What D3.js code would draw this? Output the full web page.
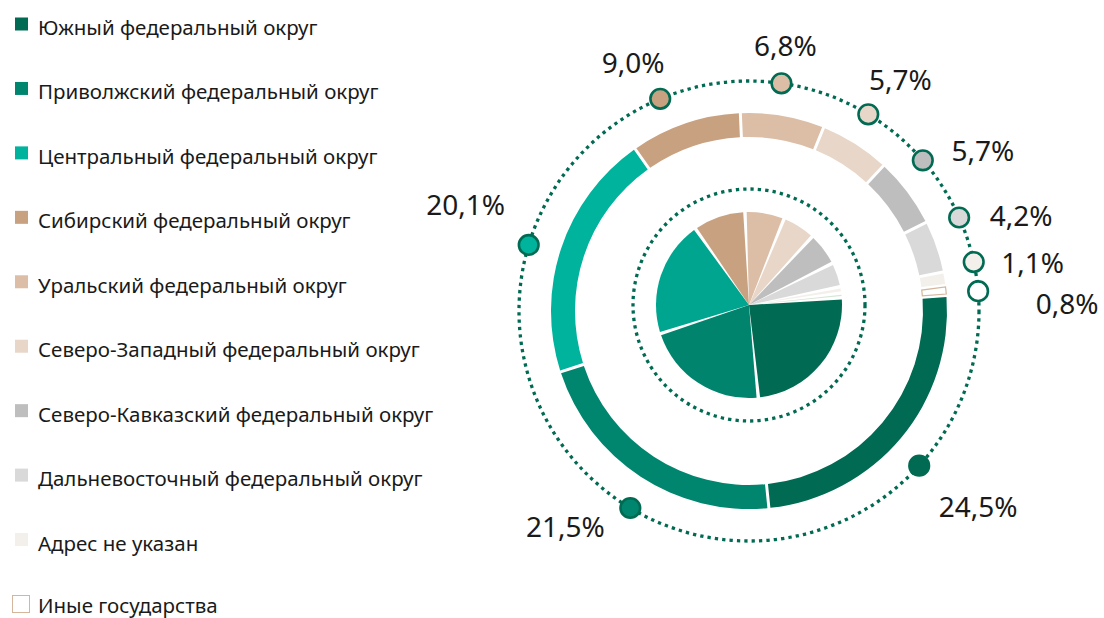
<!DOCTYPE html>
<html lang="ru">
<head>
<meta charset="utf-8">
<script src="https://cdn.jsdelivr.net/npm/d3@7"></script>
<style>
  html, body { margin: 0; padding: 0; background: #fff; }
  svg { display: block; font-family: "Noto Sans", "Open Sans", sans-serif; }
  .leg-text { font-size: 20.5px; fill: #1a1a1a; }
  .pct { font-size: 28px; fill: #1a1a1a; text-anchor: middle; }
</style>
</head>
<body>
<div id="chart"></div>
<script>
  // --- data ---
  var categories = [
    "Южный федеральный округ",
    "Приволжский федеральный округ",
    "Центральный федеральный округ",
    "Сибирский федеральный округ",
    "Уральский федеральный округ",
    "Северо-Западный федеральный округ",
    "Северо-Кавказский федеральный округ",
    "Дальневосточный федеральный округ",
    "Адрес не указан",
    "Иные государства"
  ];
  var shares = [24.5, 21.5, 20.1, 9.0, 6.8, 5.7, 5.7, 4.2, 1.1, 0.8];

  var ringColors = ["#006b52", "#00856f", "#00b39d", "#c8a181", "#dcbea7", "#e8d6c8",
                    "#bebebe", "#d9d9d9", "#f3efeb", "#ffffff"];
  var pieColors  = ["#006b52", "#00846e", "#00a58f", "#c8a181", "#dcbea7", "#e8d6c8",
                    "#bebebe", "#d9d9d9", "#f3efeb", "#d6e5d4"];
  var GREEN = "#006b52", OUTLINE = "#d4b69c";

  // label placement tweaks (deg along dotted ring, then text offset from dot)
  var dotNudge = [2.4, -2.1, -1.8, -3.9, -1.7, -1.2, -4.0, -5.0, -2.9, 1.0];
  var labelOff = [[59, 51], [-65, 29], [-63, -30], [-27, -26], [4, -27],
                  [32, -24], [60, 1], [62, 9], [59, 11], [89, 23]];

  var W = 1104, H = 618;
  var svg = d3.select("#chart").append("svg").attr("width", W).attr("height", H);

  var fmt = function (v) { return d3.format(".1f")(v).replace(".", ",") + "%"; };

  // --- legend ---
  var legY = d3.scalePoint().domain(d3.range(categories.length)).range([24, 604]);
  var last = categories.length - 1;
  var leg = svg.append("g").selectAll("g").data(categories).join("g")
    .attr("transform", function (d, i) { return "translate(0," + legY(i) + ")"; });
  leg.append("rect")
    .attr("x", function (d, i) { return i === last ? 12.5 : 15; })
    .attr("y", function (d, i) { return i === last ? -8.5 : -6.5; })
    .attr("width", function (d, i) { return i === last ? 17 : 13; })
    .attr("height", function (d, i) { return i === last ? 17 : 13; })
    .attr("fill", function (d, i) { return ringColors[i]; })
    .attr("stroke", function (d, i) { return i === last ? OUTLINE : "none"; });
  leg.append("text").attr("class", "leg-text")
    .attr("x", 38).attr("y", function (d, i) { return i === last ? 8.5 : 11; })
    .text(function (d) { return d; });

  // --- geometry ---
  var cx = 749, cy = 311;            // outer ring
  var px = 749, py = 305;            // inner pie
  var a0 = 85.5 * Math.PI / 180;

  // no padding in the layout itself, so slice angles stay proportional
  var pie = d3.pie().sort(null).value(function (d) { return d; })
    .startAngle(a0).endAngle(a0 + 2 * Math.PI);
  var arcs = pie(shares);

  // outer dotted circle
  svg.append("circle").attr("cx", cx).attr("cy", cy).attr("r", 230)
    .attr("fill", "none").attr("stroke", GREEN).attr("stroke-width", 3.3)
    .attr("stroke-dasharray", "3.3 4.1");

  // ring
  var ringArc = d3.arc().innerRadius(174).outerRadius(198)
    .padAngle(0.016).padRadius(186);
  svg.append("g").attr("transform", "translate(" + cx + "," + cy + ")")
    .selectAll("path").data(arcs).join("path")
    .attr("d", ringArc)
    .attr("fill", function (d, i) { return ringColors[i]; })
    .attr("stroke", function (d, i) { return i === last ? OUTLINE : "none"; })
    .attr("stroke-width", 1.2);

  // inner dotted circle + pie
  svg.append("circle").attr("cx", px).attr("cy", py).attr("r", 116)
    .attr("fill", "none").attr("stroke", GREEN).attr("stroke-width", 3.3)
    .attr("stroke-dasharray", "3.3 4.1");
  var pieArc = d3.arc().innerRadius(0).outerRadius(93)
    .padAngle(0.016).padRadius(220);
  svg.append("g").attr("transform", "translate(" + px + "," + py + ")")
    .selectAll("path").data(arcs).join("path")
    .attr("d", pieArc)
    .attr("fill", function (d, i) { return pieColors[i]; });

  // dots + labels
  var dots = arcs.map(function (d, i) {
    var a = (d.startAngle + d.endAngle) / 2 + dotNudge[i] * Math.PI / 180;
    return { i: i, x: cx + 230 * Math.sin(a), y: cy - 230 * Math.cos(a) };
  });
  var dg = svg.append("g").selectAll("g").data(dots).join("g")
    .attr("transform", function (d) { return "translate(" + d.x + "," + d.y + ")"; });
  dg.append("circle").attr("r", 9.8)
    .attr("fill", function (d) { return ringColors[d.i]; })
    .attr("stroke", GREEN).attr("stroke-width", 2.6);
  dg.append("text").attr("class", "pct")
    .attr("x", function (d) { return labelOff[d.i][0]; })
    .attr("y", function (d) { return labelOff[d.i][1]; })
    .text(function (d) { return fmt(shares[d.i]); });
</script>
</body>
</html>
